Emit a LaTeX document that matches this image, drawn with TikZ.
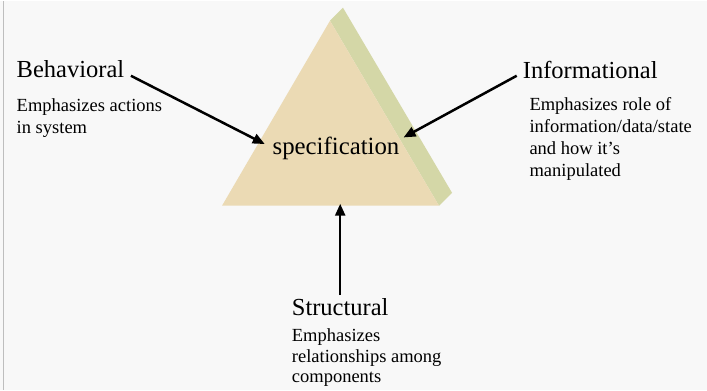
\documentclass[tikz,border=0pt]{standalone}
\usepackage{fontspec}
\setmainfont{Liberation Serif}
\usetikzlibrary{arrows.meta,positioning}

\definecolor{slidebg}{HTML}{F8F8F8}
\definecolor{parchment}{HTML}{EBDAB4}
\definecolor{sideband}{HTML}{D4D7A7}
\definecolor{edgegray}{HTML}{BEBEBE}

\begin{document}
\begin{tikzpicture}[x=1pt,y=1pt,
    title/.style={inner sep=0pt,anchor=base west,font=\fontsize{24.5}{28}\selectfont},
    desc/.style={inner sep=0pt,align=left,font=\fontsize{18.5}{22}\selectfont},
    arr/.style={line width=2.5pt,-{Triangle[length=12pt,width=10pt]}}]
   \fill[slidebg] (0,0) rectangle (707,389);
   \draw[edgegray,line width=1.5pt] (3.5,0) -- (3.5,389);
   \useasboundingbox (0,0) rectangle (707,389);
   % pyramid with its side band
   \coordinate (apex) at (330,369);
   \coordinate (bl) at (222,184);
   \coordinate (br) at (439,184);
   \fill[sideband] (apex) -- ++(13,13) -- ([shift={(13,13)}]br) -- (br) -- cycle;
   \fill[parchment] (apex) -- (bl) -- (br) -- cycle;
   \node[inner sep=0pt,anchor=base,font=\fontsize{24.8}{28}\selectfont] (spec) at (336,235.7) {specification};
   % the three views (base of a text block = its last line)
   \node[title] (behav) at (16.5,312) {Behavioral};
   \node[desc] (behavtxt) [below=55.5pt of behav.base west,anchor=base west] {Emphasizes actions\\in system};
   \node[title] (info) at (522.7,311) {Informational};
   \node[desc] (infotxt) [below right=97.3pt and 6.6pt of info.base west,anchor=base west]
      {Emphasizes role of\\information/data/state\\and how it’s\\manipulated};
   \node[title] (struct) at (291.7,74.7) {Structural};
   \node[desc,font=\fontsize{18.5}{20.5}\selectfont] (structtxt) [below=67.7pt of struct.base west,anchor=base west]
      {Emphasizes\\relationships among\\components};
   % arrows into the specification
   \draw[arr] ([xshift=6.5pt,yshift=2pt]behav.base east) -- ([xshift=-7.7pt,yshift=10pt]spec.base west);
   \draw[arr] ([xshift=-6pt,yshift=3pt]info.base west) -- ([xshift=4pt,yshift=16.6pt]spec.base east);
   \draw[arr,shorten >=-2pt] ([yshift=2.6pt]struct.north) -- (struct.north |- bl);
\end{tikzpicture}
\end{document}
